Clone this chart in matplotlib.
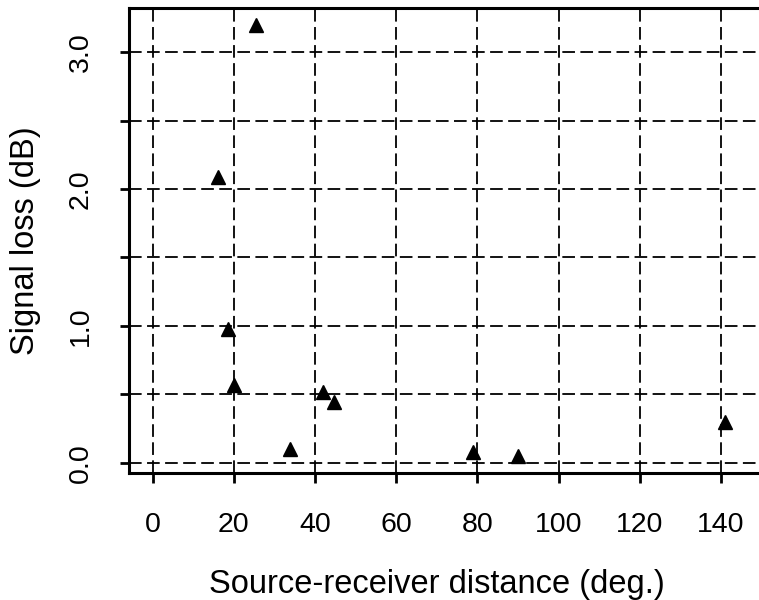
import numpy as np
import matplotlib
matplotlib.use("Agg")
import matplotlib.pyplot as plt

# Signal loss vs. source-receiver distance
distance = [25.4, 16.1, 18.5, 20.0, 33.9, 42.1, 44.8, 79.0, 90.0, 141.1]
signal_loss = [3.20, 2.09, 0.98, 0.57, 0.10, 0.52, 0.445, 0.077, 0.047, 0.30]

x_ticks = [0, 20, 40, 60, 80, 100, 120, 140]
y_ticks = [0.0, 0.5, 1.0, 1.5, 2.0, 2.5, 3.0]
y_tick_labels = ["0.0", "", "1.0", "", "2.0", "", "3.0"]

plt.rcParams["font.family"] = ["Liberation Sans", "DejaVu Sans"]

fig = plt.figure(figsize=(7.59, 6.0), dpi=100)
# axes runs off the right edge like in the scanned figure
ax = fig.add_axes([0.170, 0.2117, 0.844, 0.7743])

ax.plot(distance, signal_loss, linestyle="none", marker="^",
        markersize=10.5, color="black", zorder=3)

ax.set_xlim(-5.8, 152)
ax.set_ylim(-0.075, 3.32)

ax.set_xticks(x_ticks)
ax.set_yticks(y_ticks)
ax.set_yticklabels(y_tick_labels, rotation=90, va="center")

ax.grid(True, color="black", linewidth=1.3, linestyle=(0, (7, 3)))
ax.set_axisbelow(True)

for side in ["left", "bottom", "top", "right"]:
    ax.spines[side].set_linewidth(2.2)

ax.tick_params(axis="x", direction="out", length=7, width=2, labelsize=20.5, pad=21)
ax.tick_params(axis="y", direction="out", length=6.5, width=2, labelsize=20.5, pad=19)

ax.set_xlabel("Source-receiver distance (deg.)", fontsize=23.5)
ax.set_ylabel("Signal loss (dB)", fontsize=23.5)
ax.xaxis.set_label_coords(0.481, -0.207)
ax.yaxis.set_label_coords(-0.137, 0.5)

fig.savefig("out.png", dpi=100)
